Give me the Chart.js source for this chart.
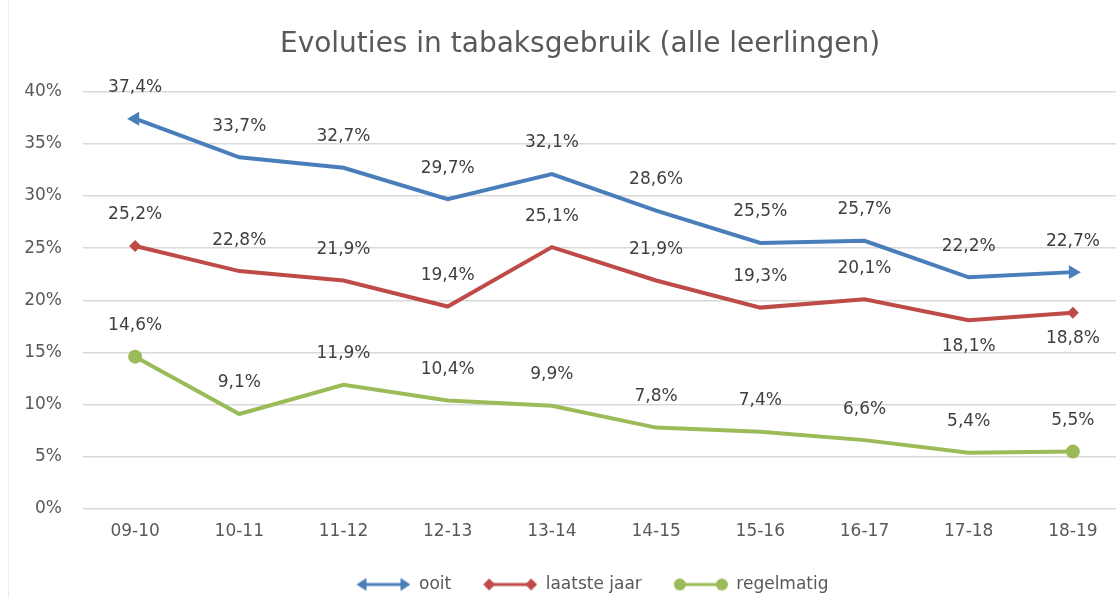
<!DOCTYPE html>
<html>
<head>
<meta charset="utf-8">
<script src="https://cdn.jsdelivr.net/npm/chart.js@4.4.1/dist/chart.umd.min.js"></script>
<style>
  html, body { margin: 0; padding: 0; background: #fff; overflow: hidden; }
  #wrap { position: relative; width: 1160px; height: 598px; }
  #edge { position: absolute; left: 8px; top: 0; width: 1px; height: 598px; background: #ececec; }
</style>
</head>
<body>
<div id="wrap"><canvas id="chart" width="1160" height="598"></canvas><div id="edge"></div></div>
<script>
// --- data ---
const schooljaren = ["09-10", "10-11", "11-12", "12-13", "13-14", "14-15", "15-16", "16-17", "17-18", "18-19"];
const ooit = [37.4, 33.7, 32.7, 29.7, 32.1, 28.6, 25.5, 25.7, 22.2, 22.7];
const laatsteJaar = [25.2, 22.8, 21.9, 19.4, 25.1, 21.9, 19.3, 20.1, 18.1, 18.8];
const regelmatig = [14.6, 9.1, 11.9, 10.4, 9.9, 7.8, 7.4, 6.6, 5.4, 5.5];
const yTicks = [0, 5, 10, 15, 20, 25, 30, 35, 40];

const BLUE = "#4a7ebb";
const RED = "#be4b48";
const GREEN = "#9bbb59";
const TEXT = "#595959";
const FONT = "'DejaVu Sans', sans-serif";

const n = schooljaren.length;
// markers only on first and last point
function endsOnly(v) {
  return schooljaren.map((_, i) => (i === 0 || i === n - 1 ? v : 0));
}

// --- legend symbols: line with end markers (transparent margin on the left) ---
const SYM_W = 79;
function legendSymbol(color, kind) {
  const c = document.createElement("canvas");
  c.width = SYM_W;
  c.height = 16;
  const g = c.getContext("2d");
  g.strokeStyle = color;
  g.fillStyle = color;
  g.lineWidth = 3;
  const a = 31, b = 73;
  g.beginPath();
  g.moveTo(a, 8);
  g.lineTo(b, 8);
  g.stroke();
  [a, b].forEach((x, k) => {
    g.beginPath();
    if (kind === "arrow") {
      const d = k === 0 ? -1 : 1;
      g.moveTo(x + d * 6, 8);
      g.lineTo(x - d * 4, 1.5);
      g.lineTo(x - d * 4, 14.5);
    } else if (kind === "diamond") {
      g.moveTo(x, 2);
      g.lineTo(x + 6, 8);
      g.lineTo(x, 14);
      g.lineTo(x - 6, 8);
    } else {
      g.arc(x, 8, 6, 0, Math.PI * 2);
    }
    g.closePath();
    g.fill();
  });
  return c;
}

// --- data labels (Excel style, above the point; some below) ---
const labelBelow = { 1: [8, 9] };
const dataLabels = {
  id: "dataLabels",
  afterDatasetsDraw(chart) {
    const ctx = chart.ctx;
    ctx.save();
    ctx.font = "17px " + FONT;
    ctx.fillStyle = "#404040";
    ctx.textAlign = "center";
    ctx.textBaseline = "middle";
    chart.data.datasets.forEach((ds, i) => {
      const meta = chart.getDatasetMeta(i);
      meta.data.forEach((pt, j) => {
        const below = (labelBelow[i] || []).includes(j);
        const txt = ds.data[j].toFixed(1).replace(".", ",") + "%";
        ctx.fillText(txt, pt.x, pt.y + (below ? 26 : -31));
      });
    });
    ctx.restore();
  },
};

function lineSet(label, data, color, style, radius, rotation, kind) {
  return {
    label: label,
    data: data,
    borderColor: color,
    backgroundColor: color,
    borderWidth: 4,
    tension: 0,
    pointStyle: style,
    pointRadius: endsOnly(radius),
    pointHoverRadius: endsOnly(radius),
    pointRotation: rotation,
    pointBorderWidth: 0,
    legendSymbol: legendSymbol(color, kind),
  };
}

const datasets = [
  lineSet("ooit", ooit, BLUE, "triangle", 8, schooljaren.map((_, i) => (i === 0 ? 270 : 90)), "arrow"),
  lineSet("laatste jaar", laatsteJaar, RED, "rectRot", 6, 0, "diamond"),
  lineSet("regelmatig", regelmatig, GREEN, "circle", 7, 0, "circle"),
];

new Chart(document.getElementById("chart"), {
  type: "line",
  data: { labels: schooljaren, datasets: datasets },
  plugins: [dataLabels],
  options: {
    responsive: false,
    animation: false,
    layout: { padding: { left: 0, right: 0, top: 0, bottom: -5 } },
    plugins: {
      title: {
        display: true,
        text: "Evoluties in tabaksgebruik (alle leerlingen)",
        color: TEXT,
        font: { family: FONT, size: 28, weight: "normal" },
        padding: { top: 28, bottom: 30 },
      },
      legend: {
        position: "bottom",
        labels: {
          color: TEXT,
          font: { family: FONT, size: 17 },
          usePointStyle: true,
          pointStyleWidth: SYM_W,
          padding: 7,
          generateLabels(chart) {
            return chart.data.datasets.map((ds, i) => ({
              text: ds.label,
              pointStyle: ds.legendSymbol,
              fontColor: TEXT,
              lineWidth: 0,
              strokeStyle: "transparent",
              fillStyle: "transparent",
              datasetIndex: i,
              hidden: false,
            }));
          },
        },
      },
      tooltip: { enabled: false },
    },
    scales: {
      x: {
        offset: true,
        grid: { display: false, drawTicks: false },
        border: { display: false },
        ticks: { color: TEXT, font: { family: FONT, size: 17 }, padding: 12 },
        afterFit(s) { s.height = 60; },
      },
      y: {
        min: 0,
        max: 40,
        afterBuildTicks(s) { s.ticks = yTicks.map((v) => ({ value: v })); },
        grid: { color: "#d9d9d9", lineWidth: 1.5, drawTicks: false },
        border: { display: false },
        ticks: {
          color: TEXT,
          font: { family: FONT, size: 17 },
          padding: 21,
          callback: (v) => v + "%",
        },
        afterFit(s) { s.width = 83; },
      },
      // empty right-hand axis: reserves the space right of the plot so title and legend sit where Excel put them
      yRight: {
        position: "right",
        min: 0,
        max: 40,
        grid: { display: false, drawTicks: false },
        border: { display: false },
        ticks: { display: false },
        afterFit(s) { s.width = 35; },
      },
    },
  },
});
</script>
</body>
</html>
